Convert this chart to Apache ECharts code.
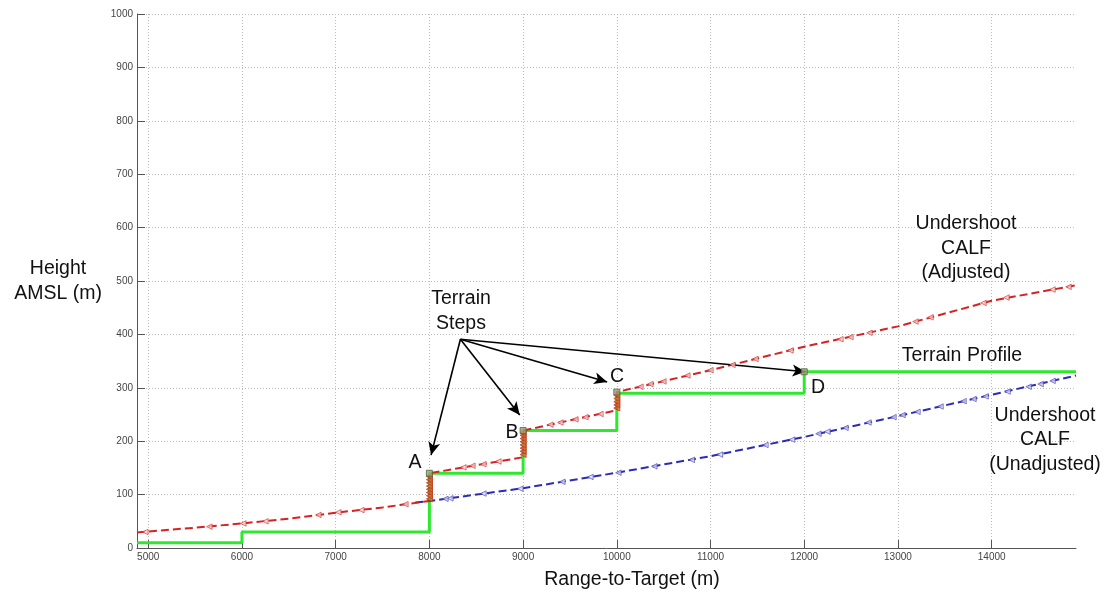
<!DOCTYPE html>
<html>
<head>
<meta charset="utf-8">
<script src="https://cdn.jsdelivr.net/npm/echarts@6/dist/echarts.min.js"></script>
<style>
html,body{margin:0;padding:0;background:#fff;}
#c{width:1108px;height:592px;}
</style>
</head>
<body>
<div id="c"></div>
<script>
// ---- data ----
var xTicks = [5000, 6000, 7000, 8000, 9000, 10000, 11000, 12000, 13000, 14000];
var terrain = [[4880,10],[6000,10],[6000,30],[8000,30],[8000,140],[9000,140],[9000,220],[10000,220],[10000,290],[12000,290],[12000,330],[14900,330]];
var adjusted = [[4880,29],[5000,31],[5500,38],[6000,46],[6500,55],[7000,66],[7500,76],[8000,88],[8000,140],[9000,170],[9000,220],[10000,258],[10000,292],[11000,333],[12000,377],[13000,415],[14000,463],[14900,492]];
var unadjusted = [[7850,85],[8000,88],[9000,112],[10000,141],[11000,172],[12000,208],[13000,247],[14000,287],[14900,323]];
var adjustedMarkers = [[4969,30],[5652,40],[6015,46],[6250,50],[6815,62],[7029,67],[7274,71],[7744,82],
  [8363,151],[8459,154],[8576,157],[8736,162],
  [9291,231],[9398,235],[9558,241],[9665,245],[9825,251],
  [10252,302],[10358,307],[10497,312],[10753,323],[10999,333],[11234,343],[11479,354],[11853,370],
  [12386,391],[12493,395],[12696,403],[13187,424],[13347,432],[13913,459],[14158,469],[14649,484],[14820,489]];
var unadjustedMarkers = [[8171,92],[8224,93],[8576,102],[8971,111],[9419,124],[9718,133],[10017,141],[10400,153],[10800,165],[11100,175],
  [11586,193],[11871,203],[12152,214],[12248,218],[12440,225],[12685,235],[12952,245],[13048,249],[13208,255],[13454,265],
  [13700,275],[13806,279],[13935,284],[14170,293],[14394,302],[14522,307],[14650,313]];
var stepMarkers = [[8000,92],[8000,98],[8000,104],[8000,110],[8000,116],[8000,122],[8000,128],[8000,134],
  [9000,175],[9000,181],[9000,187],[9000,193],[9000,199],[9000,205],[9000,211],[9000,216],
  [10000,262],[10000,268],[10000,274],[10000,280],[10000,286]];
var stepTops = [[8000,140],[9000,220],[10000,292],[12000,330]];
var arrowFrom = [8331, 391];
var arrowTo = [[8018,174],[8964,249],[9897,311],[12013,330]];

var chart = echarts.init(document.getElementById('c'), null, {renderer:'canvas'});
var FONT = 'Liberation Sans, Arial, sans-serif';
var big = {fill:'#111', font:'19.5px ' + FONT, textAlign:'center', textVerticalAlign:'middle', lineHeight:24.5};

function txt(x, y, s){ return {type:'text', x:x, y:y, style:Object.assign({}, big, {text:s}), z:100}; }
function plain(v){ return String(v); }

var option = {
  animation:false,
  backgroundColor:'#fff',
  grid:{left:137, right:32, top:14, bottom:44},
  xAxis:{
    type:'value', min:4880, max:14900,
    axisLine:{show:true, lineStyle:{color:'#555', width:1}},
    axisTick:{show:true, inside:true, length:8, customValues:xTicks, lineStyle:{color:'#555'}},
    axisLabel:{customValues:xTicks, formatter:plain, color:'#444', fontSize:10, fontFamily:FONT, margin:4},
    splitLine:{show:true, lineStyle:{color:'#bdbdbd', type:[1,2], width:1}}
  },
  yAxis:{
    type:'value', min:0, max:1000, interval:100,
    axisLine:{show:true, lineStyle:{color:'#555', width:1}},
    axisTick:{show:true, inside:true, length:8, lineStyle:{color:'#555'}},
    axisLabel:{formatter:plain, color:'#444', fontSize:10, fontFamily:FONT, margin:4},
    splitLine:{show:true, lineStyle:{color:'#bdbdbd', type:[1,2], width:1}}
  },
  series:[
    {type:'line', data:terrain, showSymbol:false, lineStyle:{color:'#2ee82e', width:3}, z:2},
    {type:'line', data:unadjusted, showSymbol:false, lineStyle:{color:'#2b2bb8', width:2, type:[8,4]}, z:3},
    {type:'line', data:adjusted, showSymbol:false, lineStyle:{color:'#d62222', width:2, type:[8,4]}, z:4,
      markLine:{silent:true, symbol:['none','arrow'], symbolSize:[9,13], label:{show:false},
        lineStyle:{color:'#000', width:1.6, type:'solid'},
        data: arrowTo.map(function(p){ return [{coord:arrowFrom}, {coord:p}]; })
      }
    },
    {type:'scatter', data:unadjustedMarkers, symbol:'triangle', symbolRotate:90, symbolSize:5.5,
      itemStyle:{color:'#d6d6f4', borderColor:'#4040b8', borderWidth:0.8}, z:5},
    {type:'scatter', data:adjustedMarkers, symbol:'triangle', symbolRotate:90, symbolSize:5.5,
      itemStyle:{color:'#f5d0d0', borderColor:'#d03030', borderWidth:0.8}, z:6},
    {type:'scatter', data:stepMarkers, symbol:'triangle', symbolRotate:90, symbolSize:6,
      itemStyle:{color:'#c8703a', borderColor:'#c03a1a', borderWidth:1}, z:7},
    {type:'scatter', data:stepTops, symbol:'rect', symbolSize:6,
      itemStyle:{color:'#a89a7a', borderColor:'#4a6a3a', borderWidth:1}, z:8}
  ],
  graphic:[
    txt(58, 281, 'Height\nAMSL (m)'),
    txt(632, 580, 'Range-to-Target (m)'),
    txt(461, 311, 'Terrain\nSteps'),
    txt(415, 463, 'A'),
    txt(512, 433, 'B'),
    txt(617, 377, 'C'),
    txt(818, 388, 'D'),
    txt(962, 356, 'Terrain Profile'),
    txt(966, 248.5, 'Undershoot\nCALF\n(Adjusted)'),
    txt(1045, 440, 'Undershoot\nCALF\n(Unadjusted)')
  ]
};
chart.setOption(option);
</script>
</body>
</html>
